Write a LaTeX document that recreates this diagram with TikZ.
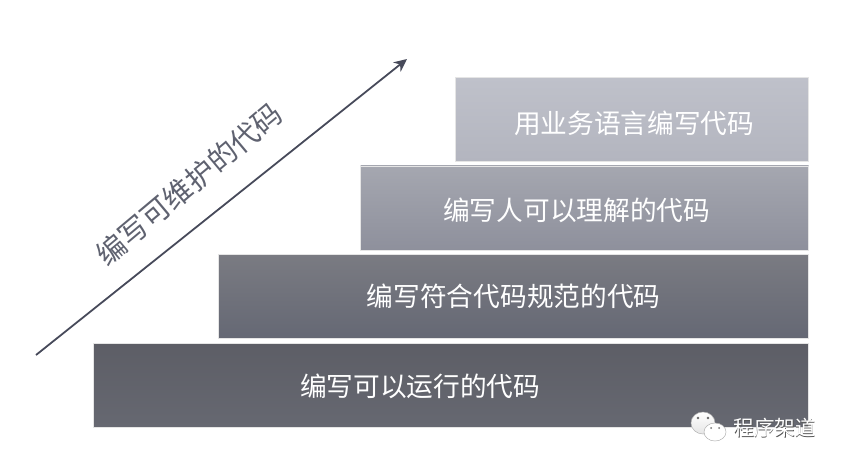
\documentclass[tikz,border=0pt]{standalone}
\usepackage{fontspec}
\setmainfont{Noto Sans CJK SC}
\usepackage{xcolor}
\usetikzlibrary{shapes.geometric, arrows.meta, positioning, calc}
\definecolor{arrowgray}{HTML}{474A5A}
\definecolor{labelgray}{HTML}{5F6270}
\definecolor{bardtop}{HTML}{BFC1CA}
\definecolor{bardbot}{HTML}{B3B5BF}
\definecolor{barctop}{HTML}{A5A7B0}
\definecolor{barcbot}{HTML}{8E909C}
\definecolor{barbtop}{HTML}{7A7B82}
\definecolor{barbbot}{HTML}{656874}
\definecolor{baratop}{HTML}{5D5E66}
\definecolor{barabot}{HTML}{666871}
\newcommand{\wmtext}[1]{\rlap{\raisebox{-0.9pt}{\hspace{0.7pt}\textcolor{black!65}{#1}}}\textcolor{white}{#1}}

\begin{document}
\begin{tikzpicture}[
  x=1pt, y=-1pt,
  font=\fontsize{26.7}{30}\selectfont,
  stepbar/.style={rectangle, inner sep=0pt, minimum height=84pt, draw=black!10, line width=0.6pt},
  steptext/.style={text=white, inner sep=0pt},
  arrow/.style={line width=1.8pt, arrowgray, -{Stealth[length=13pt, width=12pt]}},
  bubble/.style={ellipse, inner sep=0pt, draw=black!30, line width=0.5pt}
]
\useasboundingbox (0,0) rectangle (844,466);
\node (bard) [stepbar, minimum width=353pt, top color=bardtop, bottom color=bardbot, anchor=north east] at (809,77) {};
\node (barc) [stepbar, minimum width=448pt, top color=barctop, bottom color=barcbot, below=4pt of bard.south east, anchor=north east] {};
\node (barb) [stepbar, minimum width=590pt, top color=barbtop, bottom color=barbbot, below=4pt of barc.south east, anchor=north east] {};
\node (bara) [stepbar, minimum width=715pt, top color=baratop, bottom color=barabot, below=4pt of barb.south east, anchor=north east] {};
\node (textd) [steptext] at ($(bard)+(2,4)$) {用业务语言编写代码};
\node (textc) [steptext] at ($(barc)+(-8,2.5)$) {编写人可以理解的代码};
\node (textb) [steptext] at ($(barb)+(0,0)$) {编写符合代码规范的代码};
\node (texta) [steptext] at ($(bara)+(-31,1)$) {编写可以运行的代码};
\coordinate (arrowstart) at (36,355);
\coordinate (arrowend) at (407,59);
\draw [arrow] (arrowstart) -- (arrowend);
\node (arrowtext) [text=labelgray, inner sep=0pt, rotate=40, font=\fontsize{29}{32}\selectfont] at (189,184) {编写可维护的代码};
% watermark
\node (bubblea) [bubble, minimum width=24pt, minimum height=22pt, top color=white, bottom color=black!10] at (703,423) {};
\foreach \x/\y in {698/418, 708/418} \fill[black!60] (\x,\y) circle (1.3pt);
\node (bubbleb) [bubble, fill=white, minimum width=22pt, minimum height=18pt] at (715,432) {};
\foreach \x/\y in {711/428, 719/428} \fill[black!55] (\x,\y) circle (1pt);
\node (mark) [inner sep=0pt, font=\fontsize{20.5}{24}\selectfont] at (774.5,428) {\wmtext{程序架道}};
\end{tikzpicture}
\end{document}
